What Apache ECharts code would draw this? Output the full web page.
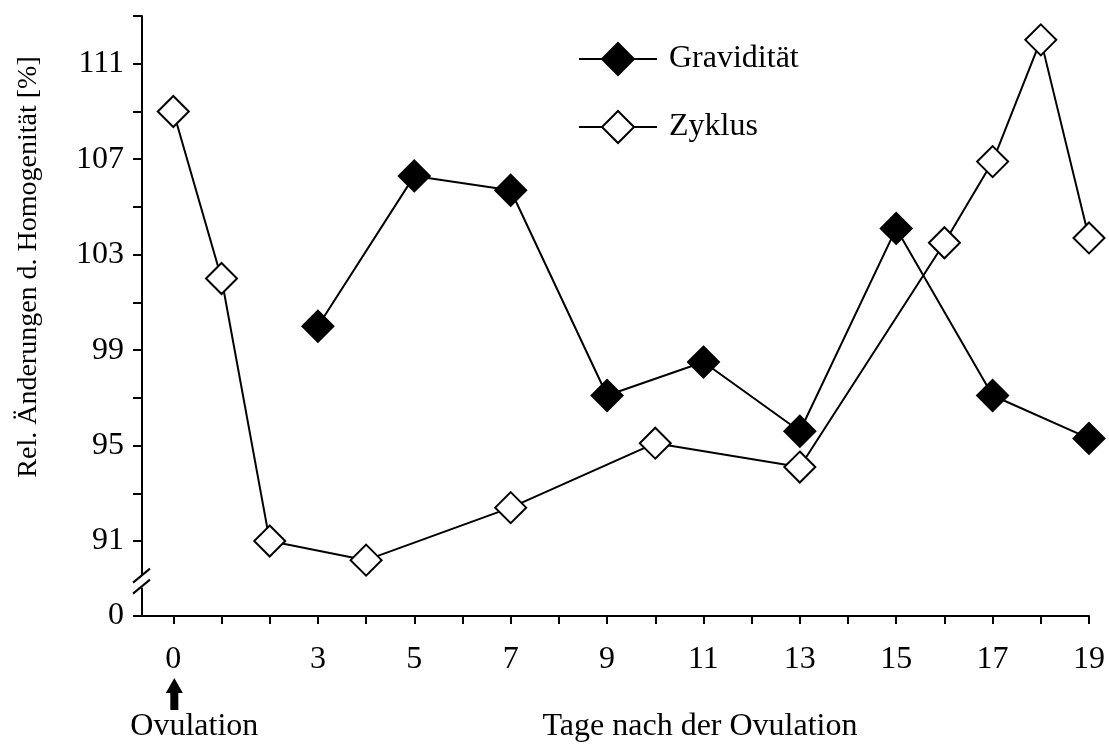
<!DOCTYPE html>
<html>
<head>
<meta charset="utf-8">
<script src="https://cdn.jsdelivr.net/npm/echarts@6/dist/echarts.min.js"></script>
<style>
  html, body { margin: 0; padding: 0; background: #ffffff; }
  #chart { width: 1109px; height: 745px; }
</style>
</head>
<body>
<div id="chart"></div>
<script>
// ---- data ----
const gravDays = [3, 5, 7, 9, 11, 13, 15, 17, 19];
const gravValues = [100.0, 106.3, 105.7, 97.1, 98.5, 95.6, 104.1, 97.1, 95.3];
const zyklusDays = [0, 1, 2, 4, 7, 10, 13, 16, 17, 18, 19];
const zyklusValues = [109.0, 102.0, 91.0, 90.2, 92.4, 95.1, 94.1, 103.5, 106.9, 112.0, 103.7];

const xTickDays = [0, 1, 2, 3, 4, 5, 6, 7, 8, 9, 10, 11, 12, 13, 14, 15, 16, 17, 18, 19];
const xLabelDays = [0, 3, 5, 7, 9, 11, 13, 15, 17, 19];
const yLabelValues = [91, 95, 99, 103, 107, 111];
const yTickValues = [91, 93, 95, 97, 99, 101, 103, 105, 107, 109, 111, 113];
const yBreakLabel = '0';

const seriesNames = ['Gravidität', 'Zyklus'];
const xTitle = 'Tage nach der Ovulation';
const yTitle = 'Rel. Änderungen d. Homogenität [%]';
const markerText = 'Ovulation';

// ---- chart ----
const FONT = '"Liberation Serif", "Times New Roman", serif';
const Y_MIN = 87.86;   // bottom of the axis, shown as "0" below the break
const Y_MAX = 113;
const X_MIN = -0.65;
const X_MAX = 19;

const chart = echarts.init(document.getElementById('chart'), null, { renderer: 'canvas' });

const pair = (xs, ys) => xs.map((x, i) => [x, ys[i]]);

const option = {
  backgroundColor: '#ffffff',
  animation: false,
  grid: { left: 142, right: 20, top: 16, bottom: 129, containLabel: false },
  legend: {
    orient: 'vertical',
    left: 578,
    top: 37,
    padding: 0,
    itemWidth: 78,
    itemHeight: 40,
    itemGap: 28,
    data: seriesNames,
    textStyle: { fontFamily: FONT, fontSize: 32, color: '#000', padding: [0, 0, 0, 7] }
  },
  xAxis: {
    type: 'value',
    min: X_MIN,
    max: X_MAX,
    splitLine: { show: false },
    axisLine: { show: true, onZero: false, lineStyle: { color: '#000', width: 2 } },
    axisTick: { show: true, inside: false, length: 8, customValues: xTickDays, lineStyle: { color: '#000', width: 2 } },
    axisLabel: {
      show: true, customValues: xLabelDays, margin: 28,
      fontFamily: FONT, fontSize: 32, color: '#000'
    }
  },
  yAxis: {
    type: 'value',
    min: Y_MIN,
    max: Y_MAX,
    splitLine: { show: false },
    axisLine: { show: true, onZero: false, lineStyle: { color: '#000', width: 2 } },
    axisTick: { show: true, inside: false, length: 9, customValues: [Y_MIN].concat(yTickValues), lineStyle: { color: '#000', width: 2 } },
    axisLabel: {
      show: true, customValues: [Y_MIN].concat(yLabelValues), margin: 18,
      showMinLabel: true, showMaxLabel: true,
      fontFamily: FONT, fontSize: 32, color: '#000',
      formatter: (v) => (v < 90 ? yBreakLabel : String(Math.round(v)))
    }
  },
  series: [
    {
      name: seriesNames[0],
      type: 'line',
      data: pair(gravDays, gravValues),
      symbol: 'diamond',
      symbolSize: 31,
      lineStyle: { color: '#000', width: 2 },
      itemStyle: { color: '#000', borderColor: '#000', borderWidth: 2 },
      z: 3
    },
    {
      name: seriesNames[1],
      type: 'line',
      data: pair(zyklusDays, zyklusValues),
      symbol: 'diamond',
      symbolSize: 31,
      lineStyle: { color: '#000', width: 2 },
      itemStyle: { color: '#ffffff', borderColor: '#000', borderWidth: 2 },
      z: 2
    }
  ]
};

option.legend.top = 42;
option.legend.itemGap = 34;

chart.setOption(option);

// ---- decorations: axis break, titles, ovulation arrow ----
const p0 = chart.convertToPixel({ gridIndex: 0 }, [0, Y_MIN]);     // x=0 on bottom axis
const pAxis = chart.convertToPixel({ gridIndex: 0 }, [X_MIN, 89.3]); // break center on y axis
const ax = pAxis[0], by = pAxis[1];
const bottomY = p0[1];

chart.setOption({
  graphic: [
    // gap in the y axis line
    { type: 'rect', shape: { x: ax - 5, y: by - 6, width: 10, height: 12 }, style: { fill: '#fff' }, z: 100 },
    { type: 'line', shape: { x1: ax - 9, y1: by + 1, x2: ax + 8, y2: by - 13 }, style: { stroke: '#000', lineWidth: 2 }, z: 101 },
    { type: 'line', shape: { x1: ax - 9, y1: by + 12, x2: ax + 8, y2: by - 2 }, style: { stroke: '#000', lineWidth: 2 }, z: 101 },
    // y title
    {
      type: 'text', x: 29, y: 267, rotation: Math.PI / 2,
      style: { text: yTitle, font: '28px ' + FONT, fill: '#000', align: 'center', verticalAlign: 'middle' },
      z: 100
    },
    // x title
    {
      type: 'text', x: 700, y: bottomY + 111,
      style: { text: xTitle, font: '32px ' + FONT, fill: '#000', align: 'center', verticalAlign: 'middle' },
      z: 100
    },
    // ovulation label
    {
      type: 'text', x: p0[0] + 21, y: bottomY + 111,
      style: { text: markerText, font: '32px ' + FONT, fill: '#000', align: 'center', verticalAlign: 'middle' },
      z: 100
    },
    // arrow pointing up at day 0
    {
      type: 'polygon',
      shape: {
        points: [
          [p0[0] + 1, bottomY + 62],
          [p0[0] + 9.5, bottomY + 77],
          [p0[0] + 5, bottomY + 77],
          [p0[0] + 5, bottomY + 94],
          [p0[0] - 3, bottomY + 94],
          [p0[0] - 3, bottomY + 77],
          [p0[0] - 7.5, bottomY + 77]
        ]
      },
      style: { fill: '#000' },
      z: 100
    }
  ]
});
</script>
</body>
</html>
